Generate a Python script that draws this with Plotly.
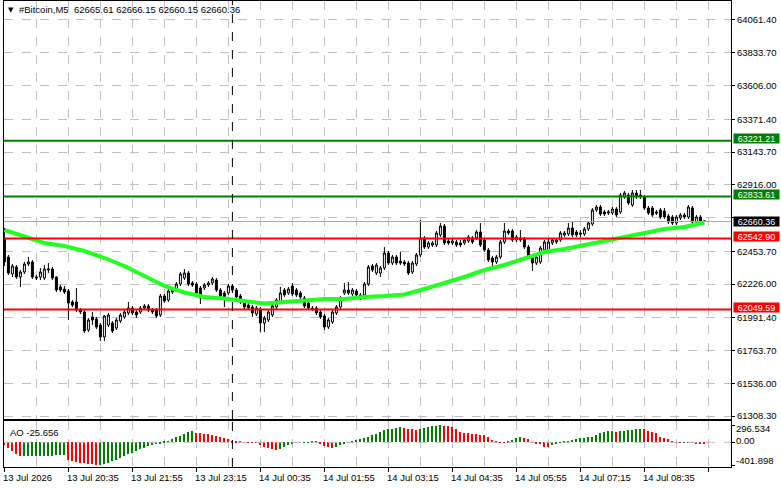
import pandas as pd
import plotly.graph_objects as go

# ---------------- data ----------------
opens = [
62545.8, 62413.7, 62295.6, 62344.2, 62274.7, 62309.5, 62365.1, 62379.0, 62274.7, 62274.7,
62267.7, 62323.4, 62330.3, 62274.7, 62205.2, 62191.3, 62177.4, 62100.9, 62100.9, 62045.3,
62031.4, 61906.2, 61996.6, 61982.7, 61941.0, 61857.6, 61941.0, 61954.9, 61920.1, 61968.8,
61996.6, 62024.4, 62059.2, 62031.4, 62031.4, 62059.2, 62073.1, 62045.3, 62045.3, 62010.5,
62142.6, 62114.8, 62170.4, 62184.3, 62226.0, 62267.7, 62302.5, 62233.0, 62226.0, 62198.2,
62198.2, 62219.1, 62233.0, 62253.8, 62184.3, 62163.5, 62163.5, 62212.1, 62184.3, 62142.6,
62100.9, 62080.0, 62066.1, 62017.5, 62052.2, 61954.9, 61975.8, 62010.5, 62066.1, 62100.9,
62184.3, 62163.5, 62212.1, 62184.3, 62163.5, 62128.7, 62093.9, 62059.2, 62059.2, 62031.4,
62003.6, 61927.1, 61961.9, 62024.4, 62066.1, 62163.5, 62184.3, 62156.5, 62177.4, 62121.8,
62149.6, 62226.0, 62351.2, 62302.5, 62302.5, 62337.3, 62441.5, 62372.0, 62413.7, 62385.9,
62379.0, 62372.0, 62309.5, 62365.1, 62427.6, 62545.8, 62483.3, 62497.2, 62497.2, 62566.7,
62629.3, 62525.0, 62511.1, 62518.0, 62511.1, 62511.1, 62525.0, 62545.8, 62545.8, 62587.5,
62531.9, 62462.4, 62406.8, 62379.0, 62413.7, 62518.0, 62594.5, 62594.5, 62531.9, 62545.8,
62538.9, 62483.3, 62420.7, 62372.0, 62379.0, 62462.4, 62455.4, 62511.1, 62518.0, 62531.9,
62566.7, 62573.6, 62615.3, 62587.5, 62580.6, 62573.6, 62608.4, 62643.2, 62740.5, 62761.3,
62726.6, 62719.6, 62719.6, 62747.4, 62726.6, 62830.9, 62844.8, 62775.2, 62858.7, 62844.8,
62830.9, 62754.4, 62754.4, 62726.6, 62740.5, 62733.5, 62698.8, 62691.8, 62650.1, 62684.9,
62705.7, 62691.8, 62754.4, 62657.1, 62691.8, 62665.61]

highs = [
62615.3, 62427.6, 62365.1, 62358.1, 62323.4, 62379.0, 62413.7, 62392.9, 62288.6, 62337.3,
62358.1, 62372.0, 62344.2, 62281.6, 62219.1, 62212.1, 62191.3, 62114.8, 62198.2, 62059.2,
62045.3, 61989.7, 62031.4, 61996.6, 61954.9, 62010.5, 62024.4, 61968.8, 61989.7, 62024.4,
62045.3, 62100.9, 62073.1, 62045.3, 62073.1, 62087.0, 62087.0, 62059.2, 62059.2, 62156.5,
62156.5, 62191.3, 62198.2, 62239.9, 62309.5, 62330.3, 62316.4, 62246.9, 62239.9, 62212.1,
62233.0, 62246.9, 62274.7, 62267.7, 62198.2, 62177.4, 62226.0, 62226.0, 62198.2, 62156.5,
62114.8, 62093.9, 62080.0, 62073.1, 62066.1, 62003.6, 62045.3, 62087.0, 62128.7, 62205.2,
62198.2, 62205.2, 62233.0, 62198.2, 62177.4, 62142.6, 62107.8, 62073.1, 62073.1, 62045.3,
62017.5, 61989.7, 62045.3, 62080.0, 62142.6, 62233.0, 62239.9, 62198.2, 62191.3, 62163.5,
62239.9, 62358.1, 62365.1, 62372.0, 62351.2, 62483.3, 62455.4, 62427.6, 62427.6, 62448.5,
62392.9, 62385.9, 62385.9, 62441.5, 62671.0, 62559.7, 62525.0, 62525.0, 62594.5, 62650.1,
62643.2, 62538.9, 62538.9, 62531.9, 62531.9, 62545.8, 62566.7, 62559.7, 62601.4, 62650.1,
62545.8, 62476.3, 62420.7, 62427.6, 62531.9, 62650.1, 62608.4, 62608.4, 62566.7, 62601.4,
62552.8, 62497.2, 62434.6, 62427.6, 62490.2, 62531.9, 62545.8, 62545.8, 62545.8, 62594.5,
62594.5, 62650.1, 62657.1, 62601.4, 62601.4, 62622.3, 62664.0, 62754.4, 62775.2, 62775.2,
62740.5, 62740.5, 62761.3, 62761.3, 62858.7, 62872.6, 62858.7, 62879.5, 62879.5, 62879.5,
62844.8, 62768.3, 62768.3, 62740.5, 62754.4, 62754.4, 62712.7, 62705.7, 62705.7, 62719.6,
62719.6, 62775.2, 62768.3, 62705.7, 62705.7, 62666.15]

lows = [
62351.2, 62288.6, 62274.7, 62260.8, 62205.2, 62295.6, 62351.2, 62260.8, 62253.8, 62253.8,
62253.8, 62302.5, 62253.8, 62170.4, 62170.4, 62156.5, 61975.8, 62066.1, 62031.4, 62017.5,
61885.4, 61892.3, 61941.0, 61913.2, 61829.8, 61829.8, 61927.1, 61885.4, 61906.2, 61954.9,
61982.7, 62010.5, 62010.5, 61989.7, 62017.5, 62045.3, 62031.4, 62017.5, 61989.7, 61996.6,
62093.9, 62100.9, 62156.5, 62170.4, 62212.1, 62253.8, 62212.1, 62205.2, 62149.6, 62087.0,
62184.3, 62205.2, 62219.1, 62170.4, 62128.7, 62066.1, 62149.6, 62170.4, 62121.8, 62087.0,
62052.2, 62045.3, 61996.6, 62003.6, 61892.3, 61892.3, 61961.9, 61996.6, 62052.2, 62087.0,
62135.7, 62149.6, 62142.6, 62135.7, 62121.8, 62059.2, 62045.3, 62038.3, 62010.5, 61982.7,
61906.2, 61913.2, 61947.9, 62010.5, 62052.2, 62149.6, 62149.6, 62142.6, 62135.7, 62114.8,
62135.7, 62212.1, 62309.5, 62288.6, 62274.7, 62323.4, 62358.1, 62358.1, 62358.1, 62358.1,
62351.2, 62288.6, 62295.6, 62351.2, 62413.7, 62469.4, 62469.4, 62483.3, 62483.3, 62552.8,
62497.2, 62497.2, 62497.2, 62483.3, 62483.3, 62497.2, 62511.1, 62504.1, 62531.9, 62483.3,
62448.5, 62379.0, 62337.3, 62365.1, 62399.8, 62504.1, 62566.7, 62518.0, 62518.0, 62518.0,
62469.4, 62406.8, 62316.4, 62358.1, 62365.1, 62448.5, 62441.5, 62497.2, 62504.1, 62518.0,
62552.8, 62559.7, 62552.8, 62552.8, 62552.8, 62559.7, 62594.5, 62629.3, 62726.6, 62698.8,
62698.8, 62705.7, 62705.7, 62691.8, 62712.7, 62817.0, 62775.2, 62761.3, 62817.0, 62817.0,
62740.5, 62705.7, 62691.8, 62705.7, 62677.9, 62677.9, 62643.2, 62636.2, 62636.2, 62671.0,
62677.9, 62677.9, 62643.2, 62643.2, 62643.2, 62660.15]

closes = [
62379.0, 62302.5, 62351.2, 62274.7, 62309.5, 62365.1, 62379.0, 62274.7, 62267.7, 62309.5,
62330.3, 62330.3, 62267.7, 62184.3, 62184.3, 62170.4, 62093.9, 62080.0, 62045.3, 62031.4,
61899.3, 61975.8, 61975.8, 61927.1, 61857.6, 62003.6, 62010.5, 61899.3, 61975.8, 62010.5,
62031.4, 62059.2, 62024.4, 62010.5, 62059.2, 62073.1, 62045.3, 62031.4, 62003.6, 62142.6,
62107.8, 62177.4, 62184.3, 62226.0, 62295.6, 62302.5, 62226.0, 62219.1, 62163.5, 62128.7,
62219.1, 62233.0, 62260.8, 62184.3, 62142.6, 62128.7, 62212.1, 62184.3, 62135.7, 62100.9,
62066.1, 62059.2, 62024.4, 62059.2, 61954.9, 61989.7, 62031.4, 62073.1, 62114.8, 62163.5,
62149.6, 62191.3, 62156.5, 62149.6, 62135.7, 62073.1, 62059.2, 62052.2, 62024.4, 61996.6,
61927.1, 61975.8, 62031.4, 62066.1, 62128.7, 62184.3, 62163.5, 62184.3, 62149.6, 62149.6,
62226.0, 62344.2, 62323.4, 62358.1, 62337.3, 62441.5, 62372.0, 62413.7, 62372.0, 62372.0,
62365.1, 62302.5, 62372.0, 62427.6, 62545.8, 62483.3, 62511.1, 62511.1, 62580.6, 62629.3,
62511.1, 62511.1, 62525.0, 62497.2, 62497.2, 62531.9, 62552.8, 62518.0, 62587.5, 62497.2,
62462.4, 62392.9, 62379.0, 62413.7, 62518.0, 62594.5, 62580.6, 62531.9, 62552.8, 62531.9,
62483.3, 62420.7, 62372.0, 62413.7, 62476.3, 62518.0, 62518.0, 62531.9, 62531.9, 62580.6,
62580.6, 62615.3, 62566.7, 62566.7, 62573.6, 62608.4, 62650.1, 62740.5, 62761.3, 62712.7,
62712.7, 62726.6, 62747.4, 62705.7, 62844.8, 62858.7, 62789.1, 62858.7, 62830.9, 62830.9,
62754.4, 62719.6, 62705.7, 62719.6, 62691.8, 62691.8, 62657.1, 62650.1, 62691.8, 62705.7,
62691.8, 62761.3, 62657.1, 62691.8, 62657.1, 62660.36]

# moving average, sampled every 5 bars
ma_idx = list(range(0, 176, 5))
ma_vals = [62601.4, 62552.8, 62511.1, 62490.2, 62455.4, 62406.8, 62351.2, 62281.6,
           62212.1, 62167.0, 62135.7, 62125.2, 62111.3, 62090.5, 62100.9, 62114.8,
           62121.8, 62121.8, 62135.7, 62142.6, 62153.0, 62191.3, 62229.5, 62274.7,
           62323.4, 62358.1, 62403.3, 62448.5, 62469.4, 62497.2, 62531.9, 62559.7,
           62584.0, 62608.4, 62622.3, 62653.6]

# Awesome Oscillator
ao = [
-40, -100, -160, -210, -245, -243, -241, -240, -238, -236,
-234, -232, -230, -228, -226, -225, -300, -320, -340, -355,
-365, -375, -385, -401.898, -390, -375, -355, -330, -300, -270,
-240, -210, -180, -150, -120, -95, -70, -50, -30, -15,
10, 30, 55, 85, 115, 145, 175, 195, 170, 160,
150, 140, 125, 110, 95, 80, 65, 30, 20, 12,
5, 3, -2, -5, -45, -75, -100, -120, -135, -110,
-85, -55, -30, -12, -5, 2, 5, 6, 7, -25,
-60, -90, -105, -75, -45, -15, 5, 25, 40, 55,
70, 95, 120, 150, 180, 210, 230, 240, 250, 258,
245, 230, 225, 222, 235, 245, 260, 275, 290, 296.534,
290, 280, 270, 235, 185, 170, 155, 145, 140, 135,
125, 85, 40, 12, 5, 2, 8, 45, 70, 85,
70, 52, -3, -20, -35, -75, -85, -45, -15, 3,
8, 22, 40, 60, 75, 78, 85, 100, 130, 160,
185, 195, 200, 180, 195, 203, 210, 220, 225, 228,
225, 205, 185, 160, 100, 70, 55, 30, 5, 2,
3, -2, -8, -15, -20, -25.656]

levels = [63221.21, 62833.61, 62542.90, 62049.59]
level_colors = ["#008000", "#008000", "#FF0000", "#FF0000"]

price_ticks = [64061.40, 63833.70, 63606.00, 63371.40, 63143.70, 62916.00, 62688.30,
               62453.70, 62226.00, 61991.40, 61763.70, 61536.00, 61308.30]
hidden_tick = 62688.30          # covered by the current-price box in the reference
ao_ticks = [296.534, 0.0, -401.898]
ao_tick_text = ["296.534", "0.00", "-401.898"]

time_labels = ["13 Jul 2026", "13 Jul 20:35", "13 Jul 21:55", "13 Jul 23:15",
               "14 Jul 00:35", "14 Jul 01:55", "14 Jul 03:15", "14 Jul 04:35",
               "14 Jul 05:55", "14 Jul 07:15", "14 Jul 08:35"]
label_times = ["2026-07-13 19:15", "2026-07-13 20:35", "2026-07-13 21:55", "2026-07-13 23:15",
               "2026-07-14 00:35", "2026-07-14 01:55", "2026-07-14 03:15", "2026-07-14 04:35",
               "2026-07-14 05:55", "2026-07-14 07:15", "2026-07-14 08:35"]

title_text = "#Bitcoin,M5  62665.61 62666.15 62660.15 62660.36"
ao_title = "AO -25.656"

# ---------------- build ----------------
n = len(closes)
times = pd.date_range("2026-07-13 19:15", periods=n, freq="5min")
xi = list(range(n))
time_to_idx = {t: i for i, t in enumerate(times)}
label_idx = [time_to_idx[pd.Timestamp(t)] for t in label_times]
sep_idx = time_to_idx[pd.Timestamp("2026-07-14 00:00")]

ao_colors = ["#FF0000"] + ["#008000" if ao[i] > ao[i - 1] else "#FF0000" for i in range(1, n)]

FONT = "Liberation Sans, Arial, sans-serif"
FS = 9.5
GRID = "#C0C0C0"

fig = go.Figure()
fig.add_trace(go.Candlestick(
    x=xi, open=opens, high=highs, low=lows, close=closes,
    increasing=dict(line=dict(color="black", width=1), fillcolor="white"),
    decreasing=dict(line=dict(color="black", width=1), fillcolor="black"),
    whiskerwidth=0, xaxis="x", yaxis="y", hoverinfo="skip"))
fig.add_trace(go.Scatter(x=ma_idx, y=ma_vals, mode="lines",
                         line=dict(color="#22FF22", width=4), xaxis="x", yaxis="y",
                         hoverinfo="skip"))
fig.add_trace(go.Bar(x=xi, y=ao, marker=dict(color=ao_colors, line=dict(width=0)),
                     width=0.22, xaxis="x2", yaxis="y2", hoverinfo="skip"))

shapes = []
for lv, c in zip(levels, level_colors):
    shapes.append(dict(type="line", xref="x domain", yref="y", x0=0, x1=1, y0=lv, y1=lv,
                       line=dict(color=c, width=2)))
last = closes[-1]
shapes.append(dict(type="line", xref="x domain", yref="y", x0=0, x1=1, y0=last, y1=last,
                   line=dict(color="#A8A8A8", width=1)))
for yr in ["y domain", "y2 domain"]:
    shapes.append(dict(type="line", xref="x", yref=yr, x0=sep_idx, x1=sep_idx, y0=0, y1=1,
                       line=dict(color="black", width=1, dash="dash")))
shapes.append(dict(type="line", xref="x2 domain", yref="y2", x0=0, x1=1, y0=0, y1=0,
                   line=dict(color=GRID, width=1, dash="dash")))

annotations = []
for lv, c in zip(levels, level_colors):
    annotations.append(dict(xref="paper", yref="y", x=1.003, y=lv, xanchor="left",
                            yanchor="middle", yshift=2, text=f"{lv:.2f}", showarrow=False,
                            bgcolor=c, width=45, height=9, borderpad=0,
                            font=dict(family=FONT, size=9, color="white")))
annotations.append(dict(xref="paper", yref="y", x=1.003, y=last, xanchor="left",
                        yanchor="middle", text=f"{last:.2f}", showarrow=False,
                        bgcolor="black", width=45, height=9, borderpad=0,
                        font=dict(family=FONT, size=9, color="white")))
for i, t in zip(label_idx, time_labels):
    annotations.append(dict(xref="x2", yref="paper", x=i, y=-0.0236, xanchor="left",
                            yanchor="middle", xshift=-3, text=t, showarrow=False,
                            font=dict(family=FONT, size=FS, color="black")))
# AO scale labels (MT4 draws them slightly inside the window)
for v, t, s in zip(ao_ticks, ao_tick_text, [-3, 1.5, 4.5]):
    annotations.append(dict(xref="paper", yref="y2", x=1.004, y=v, xanchor="left",
                            yanchor="middle", yshift=s, text=t, showarrow=False,
                            font=dict(family=FONT, size=FS, color="black")))
annotations.append(dict(xref="paper", yref="paper", x=0.003, y=0.981, xanchor="left",
                        yanchor="middle", text="▼", showarrow=False,
                        font=dict(family="DejaVu Sans", size=7, color="black")))
annotations.append(dict(xref="paper", yref="paper", x=0.018, y=0.981, xanchor="left",
                        yanchor="middle", text=title_text, showarrow=False,
                        font=dict(family=FONT, size=FS, color="black")))
annotations.append(dict(xref="paper", yref="paper", x=0.005, y=0.075, xanchor="left",
                        yanchor="middle", text=ao_title, showarrow=False,
                        font=dict(family=FONT, size=FS, color="black")))

xcommon = dict(range=[-0.1, 181.65], showticklabels=False, showline=True, mirror=True,
               linecolor="black", linewidth=1, zeroline=False,
               tickmode="linear", tick0=0, dtick=16,
               showgrid=True, gridcolor=GRID, griddash="dash", gridwidth=1,
               minor=dict(tick0=0, dtick=8, showgrid=True, gridcolor=GRID, griddash="dash",
                          gridwidth=1, ticks=""))

fig.update_layout(
    width=781, height=489,
    margin=dict(l=4, r=50, t=1, b=22),
    paper_bgcolor="white", plot_bgcolor="white",
    showlegend=False, bargap=0,
    font=dict(family=FONT, size=FS, color="black"),
    xaxis=dict(**xcommon, anchor="y", ticks="", rangeslider=dict(visible=False)),
    xaxis2=dict(**xcommon, anchor="y2", matches="x", ticks="outside", ticklen=4,
                tickcolor="black"),
    yaxis=dict(domain=[0.1030, 1.0], range=[61287.5, 64193.4], side="right",
               tickmode="array", tickvals=price_ticks,
               ticktext=["" if v == hidden_tick else f"{v:.2f}" for v in price_ticks],
               showgrid=True, gridcolor=GRID, griddash="dash", zeroline=False,
               showline=True, mirror=True, linecolor="black", ticks="outside",
               ticklen=3, tickcolor="black", tickfont=dict(family=FONT, size=FS)),
    yaxis2=dict(domain=[0.0, 0.0987], range=[-429.8, 370.6], side="right",
                tickmode="array", tickvals=ao_ticks, ticktext=["", "", ""],
                showgrid=False, zeroline=False, showline=True, mirror=True,
                linecolor="black", ticks="outside", ticklen=3, tickcolor="black"),
    shapes=shapes, annotations=annotations,
)

fig.write_html("out.html")
